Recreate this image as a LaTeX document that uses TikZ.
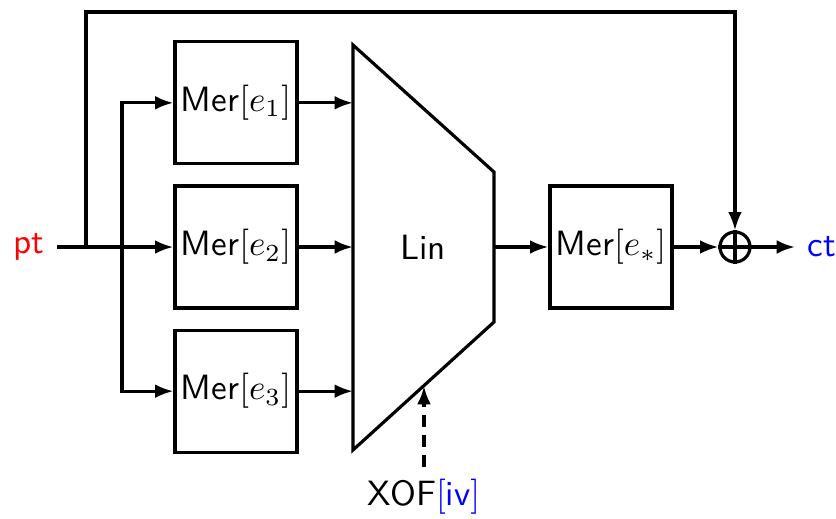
\documentclass[tikz,border=0pt]{standalone}
\usetikzlibrary{positioning, arrows.meta}

\begin{document}
\begin{tikzpicture}[
    font=\sffamily,
    node distance=0.19cm and 1.0cm,
    box/.style={
        draw,
        line width=0.9pt,
        minimum width=1.22cm,
        minimum height=1.22cm,
        inner sep=0pt
    },
    arrow/.style={
        -{Latex[length=5.2pt,width=3.9pt]},
        line width=0.9pt
    },
    line/.style={
        line width=0.9pt
    }
]
\useasboundingbox (0,0) rectangle (8.36,-5.19);

\node[text=red] (pt) at (0.29,-2.47) {pt};

\node[box] (mer2) at (2.36,-2.47) {Mer$[e_2]$};
\node[box, above=of mer2] (mer1) {Mer$[e_1]$};
\node[box, below=of mer2] (mer3) {Mer$[e_3]$};

% the Lin block
\coordinate (lintl) at (3.53,-0.45);
\coordinate (lintr) at (4.94,-1.72);
\coordinate (linbr) at (4.94,-3.22);
\coordinate (linbl) at (3.53,-4.50);
\draw[line] (lintl) -- (lintr) -- (linbr) -- (linbl) -- cycle;
\node (lin) at (4.23,-2.47) {Lin};
\coordinate (linout) at (4.94,-2.47);
\coordinate (ivin) at (4.24,-3.86);

\node[box] (mers) at (6.11,-2.47) {Mer$[e_*]$};
\node[draw, line width=0.9pt, circle, minimum size=0.30cm, inner sep=0pt] (xor) at (7.35,-2.47) {};
\draw[line] (xor.north) -- (xor.south) (xor.west) -- (xor.east);
\node[text=blue, anchor=west] (ct) at (7.95,-2.47) {ct};

\node (xof) at (4.24,-4.97) {XOF\textcolor{blue}{$[$iv$]$}};

\coordinate (fork) at (0.86,-2.47);
\coordinate (loop) at (0.86,-0.12);
\coordinate (split) at (1.22,-2.47);

\draw[arrow] (pt) -- (mer2);
\draw[arrow] (split) |- (mer1);
\draw[arrow] (split) |- (mer3);
\draw[arrow] (fork) -- (loop) -| (xor);

\draw[arrow] (mer1) -- (mer1 -| lintl);
\draw[arrow] (mer2) -- (mer2 -| lintl);
\draw[arrow] (mer3) -- (mer3 -| lintl);

\draw[arrow] (linout) -- (mers);
\draw[arrow] (mers) -- (xor);
\draw[arrow] (xor) -- (ct);
\draw[arrow, dash pattern=on 3.4pt off 2.3pt] (xof) -- (ivin);

\end{tikzpicture}
\end{document}
